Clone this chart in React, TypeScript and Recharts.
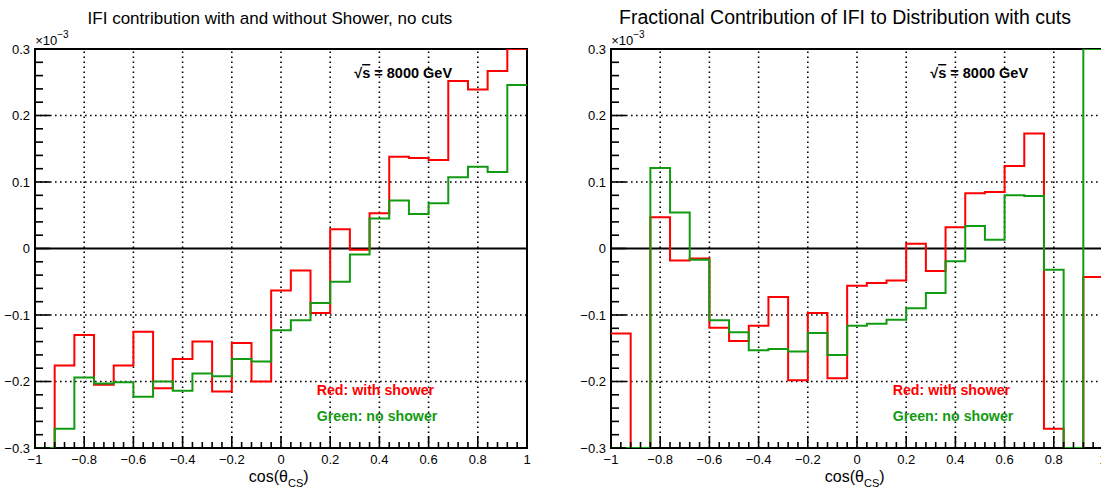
import React from 'react';
import { LineChart, Line, XAxis, YAxis, ReferenceLine, ReferenceArea } from 'recharts';

// histogram bin edges in cos(theta_CS), 25 bins of 0.08
const binEdges = [
  -1, -0.92, -0.84, -0.76, -0.68, -0.6, -0.52, -0.44, -0.36, -0.28, -0.2, -0.12, -0.04,
  0.04, 0.12, 0.2, 0.28, 0.36, 0.44, 0.52, 0.6, 0.68, 0.76, 0.84, 0.92, 1,
];

// values in units of 1e-3
const noCutsRed = [
  -0.3, -0.176, -0.13, -0.205, -0.176, -0.125, -0.21, -0.166, -0.14, -0.215, -0.142, -0.2, -0.063,
  -0.033, -0.097, 0.029, -0.002, 0.053, 0.138, 0.136, 0.133, 0.252, 0.239, 0.267, 0.3,
];
const noCutsGreen = [
  -0.3, -0.271, -0.194, -0.203, -0.201, -0.223, -0.2, -0.214, -0.188, -0.192, -0.166, -0.17, -0.123,
  -0.108, -0.082, -0.05, -0.009, 0.045, 0.072, 0.052, 0.068, 0.107, 0.123, 0.115, 0.246,
];
const cutsRed = [
  -0.128, -0.3, 0.047, -0.018, -0.015, -0.119, -0.139, -0.116, -0.073, -0.198, -0.097, -0.195, -0.056,
  -0.052, -0.048, 0.007, -0.034, 0.032, 0.083, 0.085, 0.124, 0.173, -0.271, -0.3, -0.043,
];
const cutsGreen = [
  -0.3, -0.3, 0.121, 0.054, -0.017, -0.108, -0.126, -0.153, -0.151, -0.155, -0.127, -0.16, -0.116,
  -0.113, -0.107, -0.09, -0.067, -0.019, 0.034, 0.013, 0.08, 0.079, -0.032, -0.3, 0.3,
];

const xMajor = [-1, -0.8, -0.6, -0.4, -0.2, 0, 0.2, 0.4, 0.6, 0.8, 1];
const yMajor = [-0.3, -0.2, -0.1, 0, 0.1, 0.2, 0.3];
const gridX = [-0.8, -0.6, -0.4, -0.2, 0, 0.2, 0.4, 0.6, 0.8];
const gridY = [-0.2, -0.1, 0.1, 0.2];

const xTicks = xMajor
  .flatMap((v, i) => (i < xMajor.length - 1 ? [v, v + 0.04, v + 0.08, v + 0.12, v + 0.16] : [v]))
  .map((v) => Math.round(v * 100) / 100);
const yTicks = yMajor
  .flatMap((v, i) => (i < yMajor.length - 1 ? [v, v + 0.02, v + 0.04, v + 0.06, v + 0.08] : [v]))
  .map((v) => Math.round(v * 100) / 100);

const RED = '#ff0000';
const GREEN = '#139a13';
const FONT = '"Liberation Sans", Arial, Helvetica, sans-serif';

const isMajor = (v: number, step: number) => Math.abs(v / step - Math.round(v / step)) < 1e-6;
const fmt = (v: number) => (v < 0 ? '\u2212' + String(Math.abs(v)) : String(v));

const toSteps = (red: number[], green: number[]) =>
  binEdges.map((x, i) => ({
    x,
    red: red[Math.min(i, red.length - 1)],
    green: green[Math.min(i, green.length - 1)],
  }));

const YTick = (props: any) => {
  const { x, y, payload } = props;
  const major = isMajor(payload.value, 0.1);
  return (
    <g>
      <line x1={x} x2={x + (major ? 15 : 8)} y1={y} y2={y} stroke="#000" strokeWidth={1.6} />
      {major && (
        <text x={x - 5} y={y + 4.5} textAnchor="end" fontSize={13} fontFamily={FONT} fill="#000">
          {fmt(payload.value)}
        </text>
      )}
    </g>
  );
};

const XTick = (props: any) => {
  const { x, y, payload } = props;
  const major = isMajor(payload.value, 0.2);
  return (
    <g>
      <line x1={x} x2={x} y1={y} y2={y - (major ? 12 : 6)} stroke="#000" strokeWidth={1.6} />
      {major && (
        <text x={x} y={y + 16} textAnchor="middle" fontSize={13} fontFamily={FONT} fill="#000">
          {fmt(payload.value)}
        </text>
      )}
    </g>
  );
};

function Panel({ data, left, width }: { data: any[]; left: number; width: number }) {
  return (
    <div style={{ position: 'absolute', left, top: 0 }}>
      <LineChart width={width} height={491} data={data} margin={{ top: 49, right: width - 527, bottom: 0, left: 0 }}>
        <XAxis
          dataKey="x"
          type="number"
          domain={[-1, 1]}
          ticks={xTicks}
          interval={0}
          allowDataOverflow
          height={43}
          tickSize={0}
          tickMargin={0}
          tickLine={false}
          axisLine={false}
          tick={<XTick />}
        />
        <YAxis
          type="number"
          domain={[-0.3, 0.3]}
          ticks={yTicks}
          interval={0}
          allowDataOverflow
          width={35}
          tickSize={0}
          tickMargin={0}
          tickLine={false}
          axisLine={false}
          tick={<YTick />}
        />
        {gridX.map((v) => (
          <ReferenceLine key={'gx' + v} x={v} stroke="#000" strokeWidth={1.6} strokeDasharray="1.6 3.4" />
        ))}
        {gridY.map((v) => (
          <ReferenceLine key={'gy' + v} y={v} stroke="#000" strokeWidth={1.6} strokeDasharray="1.6 3.4" />
        ))}
        <ReferenceLine y={0} stroke="#000" strokeWidth={2} />
        <Line type="stepAfter" dataKey="red" stroke={RED} strokeWidth={2} dot={false} isAnimationActive={false} />
        <Line type="stepAfter" dataKey="green" stroke={GREEN} strokeWidth={2} dot={false} isAnimationActive={false} />
        <ReferenceArea x1={-1} x2={1} y1={-0.3} y2={0.3} fill="none" fillOpacity={0} stroke="#000" strokeWidth={2} />
      </LineChart>
    </div>
  );
}

function Texts() {
  const panels = [
    { px: 34.7, title: 'IFI contribution with and without Shower', extra: ', no cuts', tx: 270, tsize: 17 },
    { px: 610.7, title: 'Fractional Contribution of IFI to Distribution', extra: ' with cuts', tx: 845, tsize: 19.5 },
  ];
  return (
    <svg width={1101} height={491} style={{ position: 'absolute', left: 0, top: 0, pointerEvents: 'none' }} fontFamily={FONT}>
      {panels.map((p, i) => (
        <g key={i}>
          <text x={p.tx} y={24} textAnchor="middle" fontSize={p.tsize} fill="#000">
            {p.title}
            <tspan>{p.extra}</tspan>
          </text>
          <text x={p.px + 0.5} y={45} fontSize={13} fill="#000">
            {'\u00d710'}
            <tspan dy={-7} fontSize={10}>
              {'\u22123'}
            </tspan>
          </text>
          <text x={p.px + 319.5} y={78} fontSize={14.5} fontWeight="bold" fill="#000">
            {'\u221a'}
            <tspan textDecoration="overline">s</tspan>
            {' = 8000 GeV'}
          </text>
          <text x={p.px + 282} y={395} fontSize={14.2} fontWeight="bold" fill={RED}>
            Red: with shower
          </text>
          <text x={p.px + 282} y={421} fontSize={14.2} fontWeight="bold" fill={GREEN}>
            Green: no shower
          </text>
          <text x={p.px + 244} y={482} textAnchor="middle" fontSize={16} fill="#000">
            {'cos(\u03b8'}
            <tspan dy={5} fontSize={11}>
              CS
            </tspan>
            <tspan dy={-5}>)</tspan>
          </text>
        </g>
      ))}
    </svg>
  );
}

export default function App() {
  return (
    <div
      style={{
        position: 'absolute',
        left: 0,
        top: 0,
        width: 1101,
        height: 491,
        overflow: 'hidden',
        background: '#fff',
        fontFamily: FONT,
      }}
    >
      <Panel data={toSteps(noCutsRed, noCutsGreen)} left={0} width={560} />
      <Panel data={toSteps(cutsRed, cutsGreen)} left={576} width={537} />
      <Texts />
    </div>
  );
}
